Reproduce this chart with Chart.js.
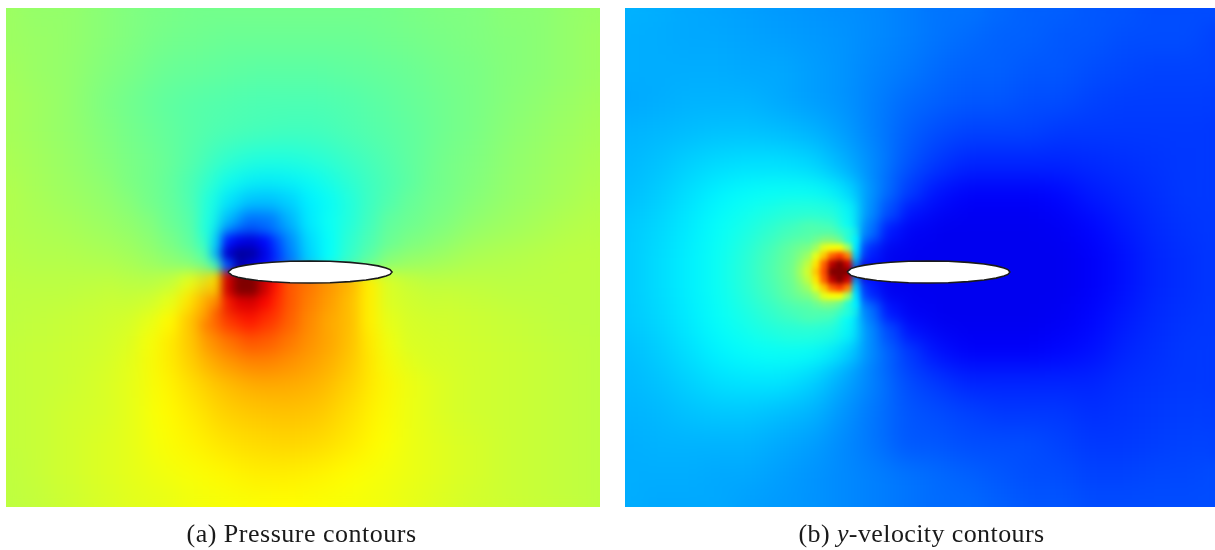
<!DOCTYPE html>
<html>
<head>
<meta charset="utf-8">
<script src="https://cdn.jsdelivr.net/npm/chart.js@4"></script>
<style>
  html, body { margin: 0; background: #fff; overflow: hidden; }
  .panel { position: absolute; top: 0; height: 550px; }
  #panel_a { left: 0; width: 612px; }
  #panel_b { left: 612px; width: 603px; }
</style>
</head>
<body>
<div class="panel" id="panel_a"><canvas id="chart_pressure"></canvas></div>
<div class="panel" id="panel_b"><canvas id="chart_velocity"></canvas></div>
<script>
// field position across and down each panel
var gridX = [0, 31, 63, 94, 125, 156, 188, 219, 250, 282, 313, 344, 376, 407, 438, 469, 501, 532, 563, 594]
var gridY = [0, 31, 62, 94, 125, 156, 188, 219, 250, 281, 312, 344, 375, 406, 437, 468, 499]

// values are percent of the colour range
var pressure = [
  [53, 52, 52, 51, 50, 49.5, 49, 49, 49, 49, 49, 49, 49, 49.5, 50, 50, 51, 51, 52, 52.5],
  [53, 52.5, 52, 51, 50, 49, 48.5, 48, 48, 48, 48, 48, 48.5, 49, 49.5, 50, 50.5, 51, 52, 53],
  [53.5, 52.5, 52, 50.5, 49.5, 48, 47.5, 47, 46.5, 46.5, 46.5, 47, 47.5, 48, 49, 49.5, 50.5, 51, 52, 53],
  [54, 53, 52, 50, 48.5, 47, 46, 45.5, 45, 45, 45, 45.5, 46.5, 47.5, 48.5, 49.5, 50.5, 51.5, 52.5, 53.5],
  [54, 53, 52, 50.5, 49, 47.5, 46, 45, 44.5, 44, 44, 45, 46, 47, 48.5, 49.5, 51, 52, 53, 54],
  [54.5, 53.5, 52.5, 51, 49.5, 48, 45.5, 42, 40, 40, 41, 43, 45, 47, 49, 50, 51.5, 52.5, 53.5, 54.5],
  [55, 54, 53, 52, 50.5, 49, 45, 39, 34, 34, 37, 41, 44, 46.5, 49, 50.5, 52, 53, 54, 55],
  [55, 54.5, 54, 53, 52, 50.5, 47, 36, 25, 27, 33, 39, 43, 46.5, 50, 52, 53, 54, 55, 55.5],
  [55.5, 55, 55, 54.5, 54, 53, 50, 30, 8, 20, 32, 40, 45, 50, 53, 54.5, 55, 55.5, 56, 56],
  [56, 56, 56, 56.5, 57, 58, 65, 95, 90, 78, 73, 69, 61, 58, 57, 56.5, 56, 56, 56, 56],
  [56, 56.5, 57, 57.5, 58.5, 62, 68, 82, 86, 79, 74, 69, 62.5, 59.5, 58, 57.5, 57, 56.5, 56, 56],
  [56.5, 57, 57.5, 58, 59.5, 63.5, 68, 74, 77, 75, 72, 69, 63, 60, 58.5, 58, 57.5, 57, 56.5, 56],
  [56.5, 57, 57.5, 58.5, 60, 63, 66, 69, 71, 71, 70, 67, 63.5, 60.5, 59, 58, 57.5, 57, 56.5, 56],
  [56.5, 57, 58, 58.5, 60, 62.5, 64.5, 67, 68, 68.5, 68, 65.5, 63, 60.5, 59, 58, 57.5, 57, 56.5, 56],
  [56.5, 57, 58, 59, 60, 62, 63.5, 65, 66, 66.5, 66, 64.5, 62.5, 60.5, 59.5, 58.5, 57.5, 57, 56.5, 56],
  [56, 57, 58, 59, 60, 61, 62, 63, 64, 64, 63.5, 62.5, 61.5, 60.5, 59.5, 58.5, 57.5, 57, 56.5, 56],
  [56, 56.5, 57.5, 58.5, 59.5, 60, 61, 61.5, 62, 62.5, 62, 61.5, 61, 60, 59, 58, 57.5, 57, 56.5, 56]
]

var velocity = [
  [30, 29.5, 29, 28.5, 28, 27.5, 27, 26.5, 26, 25, 24, 24, 23, 22, 22, 21, 21, 20, 20, 20],
  [29.5, 29.5, 29, 29, 28.5, 28, 27.5, 27, 26, 25, 24, 23, 22, 22, 21, 21, 20, 20, 20, 19],
  [29.5, 29.5, 29.5, 29.5, 29, 29, 28, 27, 25.5, 24.5, 23, 22, 22, 21, 21, 20, 19.5, 19, 19, 19],
  [29, 29.5, 30, 30, 30, 29, 28, 27, 25, 23, 22, 21, 21, 20, 20, 19, 18.5, 18.5, 18.5, 18.5],
  [30, 30.5, 31, 31.5, 31.5, 31, 30, 28, 25, 22, 20, 19, 19, 19, 18, 18, 18, 18, 18, 18],
  [30.5, 31.5, 33, 34, 34.5, 34.5, 33.5, 30, 26, 21, 18, 16, 16, 16, 16, 16.5, 17, 17.5, 18, 18],
  [31, 32.5, 34.5, 36.5, 38, 38.5, 38.5, 35, 25, 18, 14, 12, 12, 12, 13, 15, 16, 17, 18, 18],
  [32, 33.5, 35.5, 38, 40, 43, 46, 40, 22, 13, 11, 11, 11, 11, 11.5, 13, 15, 16.5, 17.5, 18],
  [32, 34, 36, 38.5, 42, 47, 55, 60, 16, 11, 11, 11, 11, 11, 11, 12, 14, 16, 17, 18],
  [32, 34, 36, 38.5, 42, 46, 54, 55, 14, 11, 11, 11, 11, 11, 11, 12, 14, 16, 17, 18],
  [32, 33.5, 35.5, 38, 40, 43, 45, 38, 22, 13, 11, 11, 11, 11, 11.5, 13, 15, 16.5, 17.5, 18],
  [31, 32.5, 34.5, 36.5, 38, 38.5, 38, 33, 24, 18, 14, 12, 12, 12, 13, 14, 16, 17, 18, 18],
  [30.5, 31.5, 33, 34.5, 35, 35, 33, 29, 25, 20, 18, 16, 16, 16, 16, 16, 17, 17.5, 18, 18],
  [30, 30.5, 31.5, 32, 32, 31, 30, 27, 24, 21, 20, 19, 18, 18, 18, 17, 17.5, 18, 18.5, 18.5],
  [29.5, 30, 30, 30, 30, 29, 28, 26, 24, 21, 21, 20, 20, 20, 19, 18, 18, 18.5, 19, 19],
  [29.5, 29.5, 29.5, 29, 29, 28, 27, 26, 25, 24, 23, 22, 21, 20, 20, 19, 19, 19.5, 19.5, 20],
  [29.5, 29, 29, 29, 28, 27.5, 27, 26, 25, 24, 23, 23, 22, 21, 21, 20, 20, 20, 20, 20]
]

// closer readings round the aerofoil, the field jumps from one side to the other
var pressureMidX = [124, 144, 164, 184, 204, 224, 244, 264, 284, 304, 324, 344, 364, 384, 404, 424]
var pressureMidY = [174, 194, 214, 234, 254, 274, 294, 314, 334, 354]
var pressureMid = [
  [49, 47.5, 46, 44, 41, 37, 36, 36, 37, 38, 40, 42, 44, 45.5, 47, 49],
  [50, 48.5, 47, 45, 40, 34, 31, 31, 33, 36.5, 38.5, 41, 44, 46, 48, 50],
  [51, 50, 48, 46, 40, 30, 23, 24, 30, 35.5, 38.5, 41, 44, 47, 49, 51],
  [52, 51, 49.5, 47, 41, 13, 9, 16, 26, 34, 38, 42, 45, 48, 50.5, 52],
  [53, 52.5, 51.5, 50, 45, 9, 8, 14, 24, 33, 38, 43, 47, 51, 53, 54],
  [54.5, 55, 56.5, 60, 68, 99, 98, 87, 79, 76, 73, 70, 64, 58.5, 57, 56],
  [56, 57.5, 60, 65, 76, 92, 93, 85, 79, 75, 72, 69, 64, 59, 57.5, 56],
  [58, 60, 63, 68, 76, 82, 85, 82, 78, 74, 71, 69, 64, 60, 58, 57],
  [59, 61.5, 64.5, 68, 73, 76, 79, 78, 75.5, 73, 71, 68.5, 64.5, 60.5, 58.5, 57.5],
  [60, 62, 64.5, 67.5, 71, 73, 74.5, 74.5, 73, 71.5, 70, 67.5, 64.5, 60.5, 58.5, 58]
]

// finer readings round the nose, where the field changes fast
var pressureNoseX = [198, 210, 222, 234, 246, 258, 270]
var pressureNoseY = [222, 234, 246, 258, 270, 282, 294, 306]
var pressureNose = [
  [41, 35, 28, 23, 22, 24, 27],
  [44, 33, 15, 10, 9, 12, 19],
  [47, 30, 8, 3, 4, 9, 17],
  [51, 44, 20, 5, 9, 13, 20],
  [56, 64, 92, 100, 100, 94, 88],
  [58.5, 66, 92, 100, 100, 94, 86],
  [63, 72, 84, 90, 91, 88, 84],
  [67, 76, 82, 86, 87, 85, 83]
]

var velocityMidX = [145, 165, 185, 205, 225, 245, 265, 285]
var velocityMidY = [184, 204, 224, 244, 264, 284, 304, 324, 344]
var velocityMid = [
  [38, 38, 38, 38, 36, 29, 24, 19],
  [40, 41, 41, 41, 38, 27, 20, 14],
  [42, 44, 46, 45, 38.5, 24, 14, 11],
  [44, 47, 52, 68, 37, 16, 11, 11],
  [45, 48, 56, 90, 100, 13, 11, 11],
  [44, 47, 52, 66, 35, 16, 11, 11],
  [42, 44, 46, 45, 38, 24, 14, 11],
  [40, 41, 41, 41, 38, 27, 20, 14],
  [38, 38, 38, 38, 36, 29, 24, 19]
]

var velocityNoseX = [175, 183, 191, 199, 207, 215, 223, 231, 239]
var velocityNoseY = [224, 232, 240, 248, 256, 264, 272, 280, 288, 296, 304]
var velocityNose = [
  [44, 44, 45, 46, 47, 47, 46, 41, 26],
  [45, 46, 48, 50, 50, 49, 43, 37, 24],
  [47, 49, 53, 60, 62, 62, 53, 36, 20],
  [50, 53, 60, 68, 78, 82, 75, 33, 18],
  [53, 57, 65, 78, 94, 100, 92, 28, 15],
  [55, 59, 68, 80, 100, 100, 100, 13, 11],
  [53, 57, 65, 78, 94, 100, 92, 28, 15],
  [50, 53, 60, 68, 78, 82, 75, 33, 18],
  [47, 49, 53, 60, 62, 62, 53, 36, 20],
  [45, 46, 48, 50, 50, 49, 43, 37, 24],
  [44, 44, 45, 46, 47, 47, 46, 41, 26]
]

// aerofoil outline
var foilX = [222, 226, 232, 240, 252, 266, 284, 304, 324, 344, 360, 372, 380, 384, 386]
var foilThickness = [0, 3.4, 5.3, 6.9, 8.5, 9.7, 10.7, 11, 10.7, 9.6, 8, 6.1, 4.1, 2.4, 0]
var foilCentre = 264

var captionA = [['(a) Pressure contours', false]]
var captionB = [['(b) ', false], ['y', true], ['-velocity contours', false]]

function jet(percent, alpha) {
  var v = percent / 100
  var ramp = function (t) { return Math.round(255 * Math.max(0, Math.min(1, t))) }
  var r = ramp(Math.min(4 * v - 1.5, 4.5 - 4 * v))
  var g = ramp(Math.min(4 * v - 0.5, 3.5 - 4 * v))
  var b = ramp(Math.min(4 * v + 0.5, 2.5 - 4 * v))
  return 'rgba(' + r + ',' + g + ',' + b + ',' + alpha + ')'
}

function cellDataset(level, order) {
  var points = []
  var colours = []
  level.ys.forEach(function (y, j) {
    level.xs.forEach(function (x, i) {
      points.push({ x: x, y: y })
      // outer rings of a closer block fade into the block below it
      var ring = Math.min(i, level.xs.length - 1 - i, j, level.ys.length - 1 - j)
      var alpha = level.feather ? [0.3, 0.7, 1][Math.min(ring, 2)] : 1
      colours.push(jet(level.rows[j][i], alpha))
    })
  })
  return {
    data: points,
    pointStyle: 'rect',
    pointRadius: level.radius,
    pointBorderWidth: 0,
    pointBackgroundColor: colours,
    clip: false,
    order: order,
    blur: level.blur
  }
}

function foilDataset() {
  var outline = []
  foilX.forEach(function (x, i) { outline.push({ x: x, y: foilCentre - foilThickness[i] }) })
  for (var i = foilX.length - 2; i >= 0; i--) outline.push({ x: foilX[i], y: foilCentre + foilThickness[i] })
  return {
    data: outline,
    showLine: true,
    fill: 'shape',
    backgroundColor: '#ffffff',
    borderColor: '#1a1a1a',
    borderWidth: 1.6,
    tension: 0,
    pointRadius: 0,
    order: 0
  }
}

// after a block of cells is down, soften the canvas so it reads as a continuous contour
var softenCells = {
  id: 'softenCells',
  afterDatasetDraw: function (chart, args) {
    var blur = chart.data.datasets[args.index].blur
    if (!blur) return
    var ctx = chart.ctx
    var area = chart.chartArea
    ctx.save()
    ctx.filter = 'blur(' + blur + 'px)'
    ctx.drawImage(ctx.canvas, 0, 0, chart.width, chart.height)
    ctx.filter = 'none'
    ctx.clearRect(0, 0, chart.width, area.top)
    ctx.clearRect(0, area.bottom, chart.width, chart.height - area.bottom)
    ctx.clearRect(0, 0, area.left, chart.height)
    ctx.clearRect(area.right, 0, chart.width - area.right, chart.height)
    ctx.restore()
  }
}

// caption under the panel, parts because the y of panel b is italic
var caption = {
  id: 'caption',
  afterDraw: function (chart, args, opts) {
    var ctx = chart.ctx
    var fontOf = function (italic) { return (italic ? 'italic ' : '') + '26px "Liberation Serif", serif' }
    ctx.save()
    ctx.fillStyle = '#1a1a1a'
    ctx.letterSpacing = opts.spacing
    ctx.textBaseline = 'alphabetic'
    var width = 0
    opts.parts.forEach(function (part) {
      ctx.font = fontOf(part[1])
      width += ctx.measureText(part[0]).width
    })
    var x = opts.centre - width / 2
    opts.parts.forEach(function (part) {
      ctx.font = fontOf(part[1])
      ctx.fillText(part[0], x, 542)
      x += ctx.measureText(part[0]).width
    })
    ctx.restore()
  }
}

function makeChart(id, levels, captionOptions, padding, xMin) {
  var datasets = levels.map(function (level, i) { return cellDataset(level, levels.length - i) })
  datasets.push(foilDataset())
  return new Chart(document.getElementById(id).getContext('2d'), {
    type: 'scatter',
    data: { datasets: datasets },
    options: {
      responsive: true,
      maintainAspectRatio: false,
      animation: false,
      events: [],
      layout: { autoPadding: false, padding: padding },
      scales: {
        x: { display: false, min: xMin, max: xMin + 594 },
        y: { display: false, min: 0, max: 499, reverse: true }
      },
      plugins: {
        legend: { display: false },
        tooltip: { enabled: false },
        caption: captionOptions
      }
    },
    plugins: [softenCells, caption]
  })
}

makeChart('chart_pressure', [
  { xs: gridX, ys: gridY, rows: pressure, radius: 23, blur: 12 },
  { xs: pressureMidX, ys: pressureMidY, rows: pressureMid, radius: 15, blur: 6, feather: true },
  { xs: pressureNoseX, ys: pressureNoseY, rows: pressureNose, radius: 9, blur: 4, feather: true }
], { parts: captionA, centre: 301.5, spacing: '0.5px' }, { left: 6, right: 12, top: 8, bottom: 43 }, 0)

makeChart('chart_velocity', [
  { xs: gridX, ys: gridY, rows: velocity, radius: 23, blur: 12 },
  { xs: velocityMidX, ys: velocityMidY, rows: velocityMid, radius: 15, blur: 6, feather: true },
  { xs: velocityNoseX, ys: velocityNoseY, rows: velocityNose, radius: 6, blur: 2.6, feather: true }
], { parts: captionB, centre: 309.5, spacing: '0.4px' }, { left: 13, right: 0, top: 8, bottom: 43 }, -1.5)
</script>
</body>
</html>
